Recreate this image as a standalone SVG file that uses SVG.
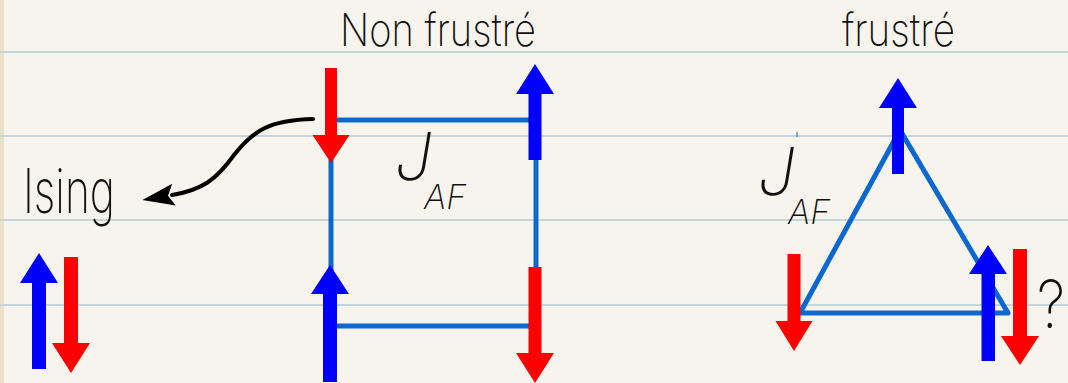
<svg xmlns="http://www.w3.org/2000/svg" width="1068" height="383" viewBox="0 0 1068 383">
<defs>
<style>
.paper{fill:#f6f4ec}
.rule{stroke:#c3d6dc;stroke-width:2;fill:none}
.bond{stroke:#0a68cf;stroke-width:5;fill:none;stroke-linejoin:round;stroke-linecap:butt}
.up{fill:#0000ff}
.down{fill:#ff0000}
.txt{font-family:Inter,"Liberation Sans",sans-serif;font-weight:200;fill:#111}
.ital{font-style:italic}
.conn{stroke:#000;stroke-width:4;fill:none;stroke-linecap:round}
</style>
<marker id="head" markerUnits="userSpaceOnUse" markerWidth="34" markerHeight="24" refX="2" refY="11" orient="auto">
<polygon points="0,0 32,11 0,22 6,11" fill="#000"/>
</marker>
</defs>
<rect class="paper" x="0" y="0" width="1068" height="383"/>
<rect x="0" y="0" width="4" height="383" fill="#e9e2c4"/>
<g id="rules">
<line class="rule" x1="0" y1="52" x2="1068" y2="52"/>
<line class="rule" x1="0" y1="136" x2="1068" y2="136"/>
<line class="rule" x1="0" y1="220" x2="1068" y2="220"/>
<line class="rule" x1="0" y1="305" x2="1068" y2="305"/>
</g>
<g id="titles">
<text class="txt" x="340" y="46" font-size="45" textLength="196" lengthAdjust="spacingAndGlyphs">Non frustré</text>
<text class="txt" x="842" y="46" font-size="45" textLength="113" lengthAdjust="spacingAndGlyphs">frustré</text>
</g>
<g id="connectors">
<path class="bond" d="M331,120 H536 V326 H331 Z"/>
<polygon class="bond" points="800,313 900,130 1008,313"/>
<path class="conn" d="M313,119 C268,120 252,132 234,155 C216,180 202,190 172,195" marker-end="url(#head)"/>
</g>
<g id="ising-label">
<text class="txt" x="23" y="213" font-size="62" textLength="92" lengthAdjust="spacingAndGlyphs">Ising</text>
</g>
<g id="ising-up"><polygon class="up" points="39,253 58,283 46,283 46,369 32,369 32,283 20,283"/></g>
<g id="ising-down"><polygon class="down" points="71,373 90,343 78,343 78,257 64,257 64,343 52,343"/></g>
<g id="sq-tl"><polygon class="down" points="331,163 349.5,135 337,135 337,68 325,68 325,135 312.5,135"/></g>
<g id="sq-tr"><polygon class="up" points="535,64 554,94 541.5,94 541.5,160 528.5,160 528.5,94 516,94"/></g>
<g id="sq-bl"><polygon class="up" points="330,265 349,294 337,294 337,382 323,382 323,294 311,294"/></g>
<g id="sq-br"><polygon class="down" points="535,383 554,353 541.5,353 541.5,267 528.5,267 528.5,353 516,353"/></g>
<g id="sq-label">
<text class="txt ital" x="395" y="180" font-size="66">J<tspan x="424" y="209" font-size="34">AF</tspan></text>
</g>
<g id="tri-top"><polygon class="up" points="898,78 917,108 904,108 904,174 892,174 892,108 879,108"/></g>
<g id="tri-left"><polygon class="down" points="794,351 812.5,321 800.5,321 800.5,254 787.5,254 787.5,321 775.5,321"/></g>
<g id="tri-right-up"><polygon class="up" points="988,245 1007,274 995,274 995,361 981.5,361 981.5,274 969,274"/></g>
<g id="tri-right-down"><polygon class="down" points="1020,365 1039,336 1027,336 1027,249 1013,249 1013,336 1001,336"/></g>
<g id="tri-label">
<line x1="797" y1="132" x2="797" y2="137" stroke="#0a68cf" stroke-width="1"/>
<text class="txt ital" x="758" y="195" font-size="66">J<tspan x="788" y="224" font-size="34">AF</tspan></text>
<text class="txt" x="1037" y="328" font-size="66" textLength="28" lengthAdjust="spacingAndGlyphs">?</text>
</g>
</svg>
